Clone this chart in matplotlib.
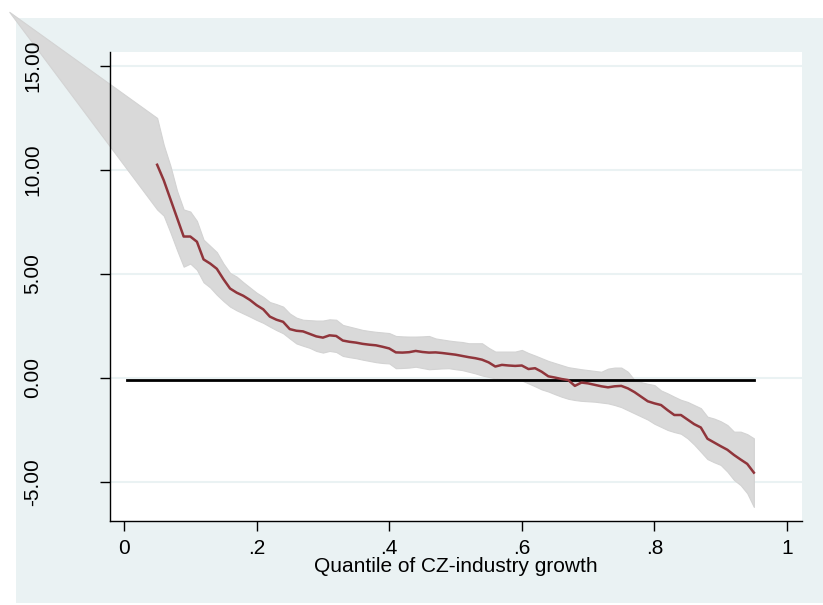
import numpy as np
import matplotlib.pyplot as plt
from matplotlib.patches import Rectangle

plt.rcParams['font.family'] = ['Liberation Sans', 'DejaVu Sans']

# Estimated effect by quantile of CZ-industry growth
quantile = np.round(np.arange(0.05, 0.951, 0.01), 2)
estimate = [
    10.25, 9.5, 8.6, 7.7, 6.8, 6.8, 6.55, 5.7, 5.5, 5.25,
    4.75, 4.3, 4.1, 3.95, 3.75, 3.5, 3.3, 2.95, 2.8, 2.7,
    2.35, 2.27, 2.24, 2.12, 2.0, 1.94, 2.05, 2.02, 1.8, 1.74,
    1.7, 1.64, 1.6, 1.57, 1.5, 1.42, 1.23, 1.22, 1.24, 1.3,
    1.25, 1.22, 1.23, 1.2, 1.16, 1.12, 1.06, 1.0, 0.95, 0.88,
    0.75, 0.55, 0.63, 0.6, 0.58, 0.6, 0.43, 0.47, 0.3, 0.08,
    0.02, -0.05, -0.1, -0.38, -0.22, -0.26, -0.33, -0.4, -0.45, -0.4,
    -0.38, -0.5, -0.68, -0.9, -1.12, -1.22, -1.3, -1.55, -1.78, -1.78,
    -2.0, -2.22, -2.38, -2.92, -3.1, -3.28, -3.45, -3.7, -3.92, -4.13,
    -4.55,
]
upper = [
    12.5, 11.2, 10.2, 9.0, 8.1, 8.0, 7.55, 6.65, 6.35, 6.05,
    5.5, 5.05, 4.87, 4.6, 4.35, 4.1, 3.9, 3.65, 3.55, 3.43,
    3.1, 2.9, 2.8, 2.78, 2.76, 2.76, 2.82, 2.8, 2.55, 2.47,
    2.39, 2.31, 2.26, 2.22, 2.19, 2.16, 2.02, 2.0, 1.99, 1.99,
    2.0, 2.02, 1.9, 1.85, 1.8, 1.76, 1.73, 1.67, 1.67, 1.67,
    1.45, 1.27, 1.27, 1.27, 1.27, 1.35, 1.2, 1.08, 0.95, 0.82,
    0.72, 0.62, 0.52, 0.47, 0.42, 0.38, 0.34, 0.3, 0.45, 0.5,
    0.5, 0.3, -0.1, -0.2, -0.28, -0.34, -0.6, -0.74, -0.9, -1.05,
    -1.15, -1.3, -1.45, -1.86, -1.95, -2.08, -2.26, -2.58, -2.58, -2.7,
    -2.9,
]
lower = [
    8.1, 7.8, 7.0, 6.15, 5.35, 5.5, 5.2, 4.6, 4.35, 4.0,
    3.7, 3.43, 3.25, 3.1, 2.95, 2.79, 2.65, 2.47, 2.3, 2.15,
    1.9, 1.66, 1.55, 1.45, 1.3, 1.22, 1.3, 1.25, 1.06, 1.0,
    0.95, 0.88, 0.82, 0.76, 0.72, 0.7, 0.47, 0.48, 0.5, 0.54,
    0.48, 0.42, 0.44, 0.46, 0.47, 0.42, 0.38, 0.3, 0.22, 0.12,
    0.05, -0.02, -0.05, -0.08, -0.1, -0.12, -0.26, -0.4, -0.55, -0.65,
    -0.78, -0.9, -1.0, -1.06, -1.1, -1.12, -1.14, -1.18, -1.22, -1.3,
    -1.4, -1.55, -1.7, -1.85, -2.0, -2.2, -2.35, -2.5, -2.6, -2.68,
    -2.9, -3.2, -3.55, -3.9, -4.05, -4.18, -4.5, -4.9, -5.15, -5.54,
    -6.2,
]
# extra band vertex at the left end (both bounds meet there)
band_start_x = -0.173
band_start_y = 17.6

ref_x = [0.005, 0.95]
ref_y = [-0.12, -0.12]

xticks = [0, 0.2, 0.4, 0.6, 0.8, 1]
xticklabels = ['0', '.2', '.4', '.6', '.8', '1']
yticks = [-5, 0, 5, 10, 15]
yticklabels = ['-5.00', '0.00', '5.00', '10.00', '15.00']

bg = '#EAF2F3'

fig = plt.figure(figsize=(8.23, 6.05), dpi=100, facecolor='white')
fig.patches.append(Rectangle((16 / 823, 2 / 605), 1 - 16 / 823, (605 - 20) / 605,
                             transform=fig.transFigure, facecolor=bg,
                             edgecolor='none', zorder=-10))

ax = fig.add_axes([110 / 823, 1 - 521 / 605, (802 - 110) / 823, (521 - 52) / 605])
ax.set_facecolor('white')
ax.set_xlim(-0.0211, 1.0226)
ax.set_ylim(-6.875, 15.67)

for y in yticks:
    ax.axhline(y, color=bg, lw=1.5, zorder=1)

bx = np.concatenate([[band_start_x], quantile])
bu = np.concatenate([[band_start_y], upper])
bl = np.concatenate([[band_start_y], lower])
ax.fill_between(bx, bl, bu, color='#D9D9D9', lw=0.8, edgecolor='#D3D3D3',
                zorder=1.2, clip_on=False)

ax.plot(ref_x, ref_y, color='black', lw=2, zorder=3)
ax.plot(quantile, estimate, color='#90353B', lw=1.8, zorder=4)

for side in ['top', 'right']:
    ax.spines[side].set_visible(False)
for side in ['left', 'bottom']:
    ax.spines[side].set_color('black')
    ax.spines[side].set_linewidth(1)

ax.set_xticks(xticks)
ax.set_xticklabels(xticklabels)
ax.set_yticks(yticks)
ax.set_yticklabels(yticklabels, rotation=90, va='center')
ax.tick_params(axis='both', length=7, width=1, labelsize=15, colors='black')
ax.tick_params(axis='y', pad=42)
ax.tick_params(axis='x', pad=6)
ax.set_xlabel('Quantile of CZ-industry growth', fontsize=15, labelpad=-1)

fig.savefig('out.png', dpi=100, facecolor='white')
